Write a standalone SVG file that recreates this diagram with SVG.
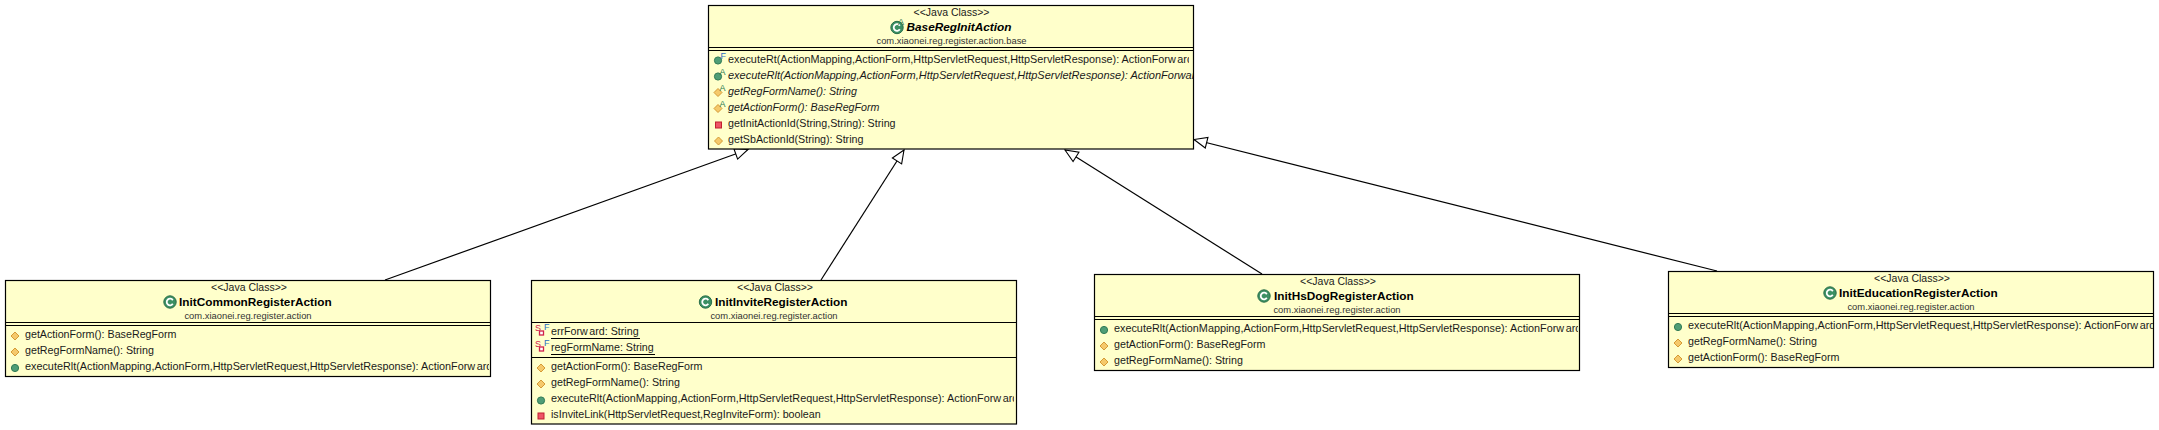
<svg xmlns="http://www.w3.org/2000/svg" width="2159" height="430" viewBox="0 0 2159 430">
<style>
text{font-family:"Liberation Sans",Arial,sans-serif;font-size:10.7px;fill:#1a1a1a}
.c{text-anchor:middle}
.s{font-size:10.5px}
.p{font-size:9.4px;fill:#333}
.n{font-weight:bold;font-size:11.8px;fill:#000}
.i{font-style:italic}
.w{font-size:11px}
.x{font-size:10.84px}
.b{fill:#ffffcb;stroke:#000;stroke-width:1.2}
.l{stroke:#000;stroke-width:1.2;fill:none}
.pub{fill:#4f9d76;stroke:#2f7a55}
.pro{fill:#f5c96b;stroke:#d59a35}
.pri{fill:#ee5566;stroke:#c02030}
.k{fill:#3b8f63;stroke:#2a6f4a}
.ad{font-size:9px;fill:#2a7a50}
.af{font-size:9px;fill:#2a6fc0}
.rs{font-size:9px;fill:#d0204a}
.rb{fill:#fff;stroke:#d0204a;stroke-width:1.3}
</style>
<defs>
<marker id="tri" markerWidth="16" markerHeight="14" refX="14" refY="7" orient="auto" markerUnits="userSpaceOnUse"><path d="M14 7L1 1.500V12.500Z" fill="#fff" stroke="#000" stroke-width="1.1"/></marker>
<g id="pubI"><circle cx="0" cy="0" r="3.6" class="pub"/></g>
<g id="proI"><path d="M0-4L4 0L0 4L-4 0Z" class="pro"/></g>
<g id="priI"><rect x="-3" y="-3" width="6" height="6" class="pri"/></g>
<g id="clsI"><circle r="6.2" class="k"/><path d="M2.800-1.800A3.300 3.300 0 1 0 2.800 1.800" fill="none" stroke="#fff" stroke-width="1.8"/></g>
<clipPath id="c0"><rect x="720" y="50" width="469" height="18"/></clipPath>
<clipPath id="c0b"><rect x="720" y="68" width="473" height="16"/></clipPath>
<clipPath id="c0c"><rect x="720" y="100" width="163" height="16"/></clipPath>
<clipPath id="c1"><rect x="10" y="325" width="479" height="51"/></clipPath>
<clipPath id="c2"><rect x="535" y="357" width="479" height="67"/></clipPath>
<clipPath id="c3"><rect x="1100" y="319" width="478" height="51"/></clipPath>
<clipPath id="c4"><rect x="1675" y="316" width="478" height="51"/></clipPath>
</defs>
<g id="connectors">
<path class="l" marker-end="url(#tri)" d="M385 280L748 149.500"/>
<path class="l" marker-end="url(#tri)" d="M821 280L904 150"/>
<path class="l" marker-end="url(#tri)" d="M1262 274L1065 150"/>
<path class="l" marker-end="url(#tri)" d="M1717 271L1194 139.500"/>
</g>
<g id="BaseRegInitAction">
<rect class="b" x="708.500" y="5.500" width="485" height="143.500"/>
<path class="l" d="M708.500 47.500H1193.500M708.500 50.500H1193.500"/>
<text class="c s" x="951.500" y="15.500">&lt;&lt;Java Class&gt;&gt;</text>
<use href="#clsI" x="897" y="27.500"/><text class="ad" x="898" y="25">A</text>
<text class="n i" x="906.500" y="31">BaseRegInitAction</text>
<text class="c p" x="951.500" y="44">com.xiaonei.reg.register.action.base</text>
<text class="x" x="728" y="63" clip-path="url(#c0)">executeRt(ActionMapping,ActionForm,HttpServletRequest,HttpServletResponse): ActionForw<tspan dx="1.500">ard</tspan></text>
<text class="i w" x="728" y="79" clip-path="url(#c0b)">executeRlt(ActionMapping,ActionForm,HttpServletRequest,HttpServletResponse): ActionForward</text>
<text class="i" x="728" y="95">getRegFormName(): String</text>
<text class="i" x="728" y="111" clip-path="url(#c0c)">getActionForm(): BaseRegForm</text>
<text x="728" y="127">getInitActionId(String,String): String</text>
<text x="728" y="143">getSbActionId(String): String</text>
<use href="#pubI" x="718" y="60.500"/><text class="af" x="720.500" y="59">F</text>
<use href="#pubI" x="718" y="76.500"/><text class="ad" x="719.500" y="75">A</text>
<use href="#proI" x="718" y="92.500"/><text class="ad" x="719.500" y="91">A</text>
<use href="#proI" x="718" y="108.500"/><text class="ad" x="719.500" y="107">A</text>
<use href="#priI" x="718.500" y="125"/>
<use href="#proI" x="718.500" y="141"/>
</g>
<g id="InitCommonRegisterAction">
<rect class="b" x="5.500" y="280.500" width="485" height="96"/>
<path class="l" d="M5.500 322.500H490.500M5.500 325.500H490.500"/>
<text class="c s" x="249" y="290.500">&lt;&lt;Java Class&gt;&gt;</text>
<use href="#clsI" x="170" y="302"/>
<text class="n" x="179" y="306">InitCommonRegisterAction</text>
<text class="c p" x="248" y="319">com.xiaonei.reg.register.action</text>
<g clip-path="url(#c1)">
<text x="25" y="338">getActionForm(): BaseRegForm</text>
<text x="25" y="354">getRegFormName(): String</text>
<text class="x" x="25" y="370">executeRlt(ActionMapping,ActionForm,HttpServletRequest,HttpServletResponse): ActionForw<tspan dx="1.500">ard</tspan></text>
</g>
<use href="#proI" x="15" y="336"/><use href="#proI" x="15" y="352"/><use href="#pubI" x="15" y="368"/>
</g>
<g id="InitInviteRegisterAction">
<rect class="b" x="531.500" y="280.500" width="485" height="143.500"/>
<path class="l" d="M531.500 322.500H1016.500M531.500 357.500H1016.500M551 338.500H640M551 354.500H655"/>
<text class="c s" x="775" y="290.500">&lt;&lt;Java Class&gt;&gt;</text>
<use href="#clsI" x="705.500" y="302"/>
<text class="n" x="715" y="306">InitInviteRegisterAction</text>
<text class="c p" x="774" y="319">com.xiaonei.reg.register.action</text>
<text class="rs" x="535" y="331">S</text><rect class="rb" x="539.500" y="331" width="4" height="4"/><text class="af" x="544" y="330">F</text>
<text x="551" y="335">errForw<tspan dx="1.500">ard: String</tspan></text>
<text class="rs" x="535" y="347">S</text><rect class="rb" x="539.500" y="347" width="4" height="4"/><text class="af" x="544" y="346">F</text>
<text x="551" y="351">regFormName: String</text>
<g clip-path="url(#c2)">
<text x="551" y="370">getActionForm(): BaseRegForm</text>
<text x="551" y="386">getRegFormName(): String</text>
<text class="x" x="551" y="402">executeRlt(ActionMapping,ActionForm,HttpServletRequest,HttpServletResponse): ActionForw<tspan dx="1.500">ard</tspan></text>
<text x="551" y="418">isInviteLink(HttpServletRequest,RegInviteForm): boolean</text>
</g>
<use href="#proI" x="541" y="368"/><use href="#proI" x="541" y="384"/><use href="#pubI" x="541" y="400.500"/><use href="#priI" x="541" y="416"/>
</g>
<g id="InitHsDogRegisterAction">
<rect class="b" x="1094.500" y="274.500" width="485" height="96"/>
<path class="l" d="M1094.500 316.500H1579.500M1094.500 319.500H1579.500"/>
<text class="c s" x="1338" y="284.500">&lt;&lt;Java Class&gt;&gt;</text>
<use href="#clsI" x="1264" y="296"/>
<text class="n" x="1274" y="300">InitHsDogRegisterAction</text>
<text class="c p" x="1337" y="313">com.xiaonei.reg.register.action</text>
<g clip-path="url(#c3)">
<text class="x" x="1114" y="332">executeRlt(ActionMapping,ActionForm,HttpServletRequest,HttpServletResponse): ActionForw<tspan dx="1.500">ard</tspan></text>
<text x="1114" y="348">getActionForm(): BaseRegForm</text>
<text x="1114" y="364">getRegFormName(): String</text>
</g>
<use href="#pubI" x="1104" y="330"/><use href="#proI" x="1104" y="346"/><use href="#proI" x="1104" y="362"/>
</g>
<g id="InitEducationRegisterAction">
<rect class="b" x="1668.500" y="271.500" width="485" height="96"/>
<path class="l" d="M1668.500 313.500H2153.500M1668.500 316.500H2153.500"/>
<text class="c s" x="1912" y="281.500">&lt;&lt;Java Class&gt;&gt;</text>
<use href="#clsI" x="1830" y="293"/>
<text class="n" x="1839" y="297">InitEducationRegisterAction</text>
<text class="c p" x="1911" y="310">com.xiaonei.reg.register.action</text>
<g clip-path="url(#c4)">
<text class="x" x="1688" y="329">executeRlt(ActionMapping,ActionForm,HttpServletRequest,HttpServletResponse): ActionForw<tspan dx="1.500">ard</tspan></text>
<text x="1688" y="345">getRegFormName(): String</text>
<text x="1688" y="361">getActionForm(): BaseRegForm</text>
</g>
<use href="#pubI" x="1678" y="327"/><use href="#proI" x="1678" y="343"/><use href="#proI" x="1678" y="359"/>
</g>
</svg>
